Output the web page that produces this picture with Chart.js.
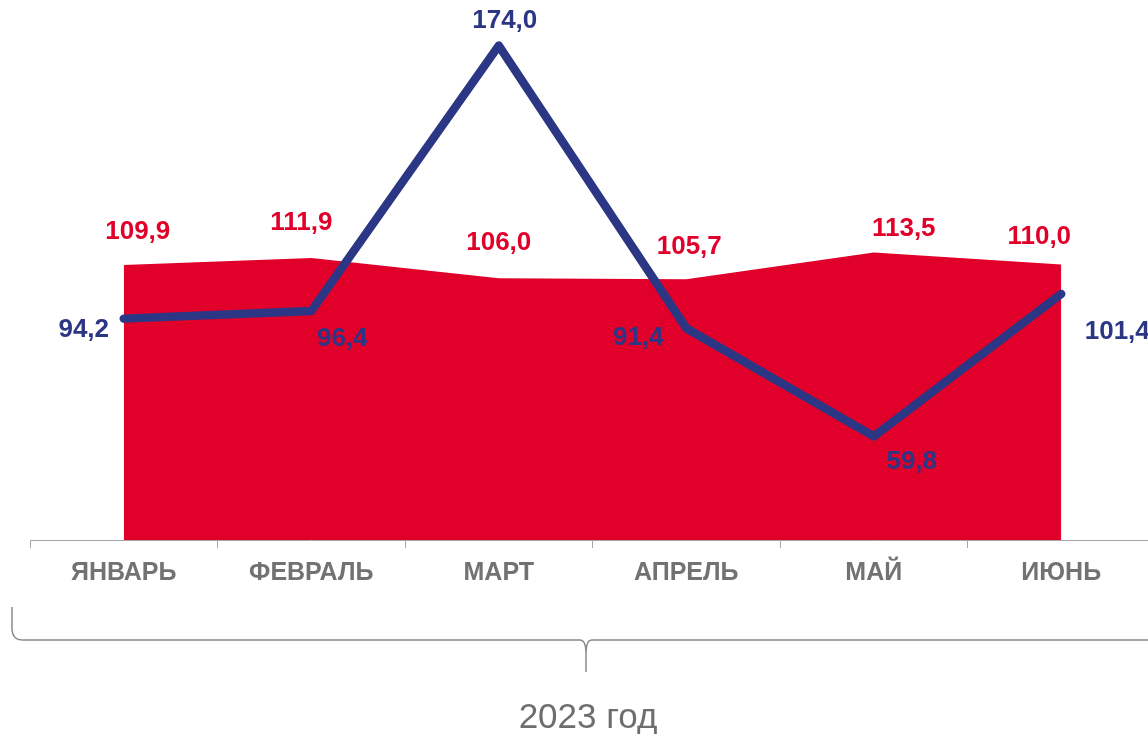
<!DOCTYPE html>
<html lang="ru">
<head>
    <meta charset="UTF-8">
    <title>2023 год</title>
    <script src="https://cdn.jsdelivr.net/npm/chart.js"></script>
    <style>
        body { margin: 0; overflow: hidden; background: #fff; font-family: 'Liberation Sans', Arial, sans-serif; }
        #wrap { position: relative; width: 1160px; height: 734px; }
    </style>
</head>
<body>
    <div id="wrap"><canvas id="chart"></canvas></div>

    <script>
        const months = ['ЯНВАРЬ', 'ФЕВРАЛЬ', 'МАРТ', 'АПРЕЛЬ', 'МАЙ', 'ИЮНЬ'];
        const areaValues = [109.9, 111.9, 106.0, 105.7, 113.5, 110.0];
        const lineValues = [94.2, 96.4, 174.0, 91.4, 59.8, 101.4];
        const periodLabel = '2023 год';

        const RED = '#e1002a';
        const BLUE = '#2b3684';
        const GREY = '#727272';

        // label offsets from the point (label centre), per dataset
        const areaLabelShift = [[14, -33], [-10, -35], [0, -35], [3, -32], [30, -24], [-22, -28]];
        const lineLabelShift = [[-40, 11], [31, 28], [6, -25], [-48, 10], [38, 26], [56, 38]];

        const fmt = v => v.toFixed(1).replace('.', ',');

        const valueLabels = {
            id: 'valueLabels',
            afterDatasetsDraw(chart) {
                const ctx = chart.ctx;
                ctx.save();
                ctx.font = 'bold 26px "Liberation Sans", Arial, sans-serif';
                ctx.textAlign = 'center';
                ctx.textBaseline = 'middle';
                chart.data.datasets.forEach((ds, di) => {
                    const meta = chart.getDatasetMeta(di);
                    const shift = ds.label === 'area' ? areaLabelShift : lineLabelShift;
                    ctx.fillStyle = ds.label === 'area' ? RED : BLUE;
                    meta.data.forEach((pt, i) => {
                        ctx.fillText(fmt(ds.data[i]), pt.x + shift[i][0], pt.y + shift[i][1]);
                    });
                });
                ctx.restore();
            }
        };

        // curly brace under the axis + period caption
        const brace = {
            id: 'brace',
            afterDraw(chart) {
                const ctx = chart.ctx;
                const l = 12, r = 1160, mid = 586, top = 607, y = 640, tip = 672;
                ctx.save();
                ctx.strokeStyle = '#8a8a8a';
                ctx.lineWidth = 1.5;
                ctx.beginPath();
                ctx.moveTo(l, top);
                ctx.lineTo(l, y - 10);
                ctx.quadraticCurveTo(l + 1, y, l + 10, y);
                ctx.lineTo(mid - 6, y);
                ctx.quadraticCurveTo(mid, y, mid, y + 14);
                ctx.lineTo(mid, tip);
                ctx.moveTo(mid, y + 14);
                ctx.quadraticCurveTo(mid, y, mid + 6, y);
                ctx.lineTo(r - 10, y);
                ctx.quadraticCurveTo(r - 1, y, r, y - 10);
                ctx.lineTo(r, top);
                ctx.stroke();

                ctx.fillStyle = '#6e6e6e';
                ctx.font = '35px "Liberation Sans", Arial, sans-serif';
                ctx.textAlign = 'center';
                ctx.textBaseline = 'middle';
                ctx.fillText(periodLabel, 588, 718);
                ctx.restore();
            }
        };

        new Chart(document.getElementById('chart'), {
            type: 'line',
            data: {
                labels: months,
                datasets: [
                    {
                        label: 'line',
                        data: lineValues,
                        borderColor: BLUE,
                        borderWidth: 8.5,
                        borderCapStyle: 'round',
                        borderJoinStyle: 'round',
                        pointRadius: 0,
                        fill: false,
                        tension: 0,
                        order: 0
                    },
                    {
                        label: 'area',
                        data: areaValues,
                        borderWidth: 0,
                        backgroundColor: RED,
                        pointRadius: 0,
                        fill: 'start',
                        tension: 0,
                        order: 1
                    }
                ]
            },
            options: {
                responsive: true,
                maintainAspectRatio: false,
                animation: false,
                layout: { padding: { top: 10, left: 30, right: 5, bottom: 0 } },
                plugins: { legend: { display: false }, tooltip: { enabled: false } },
                scales: {
                    x: {
                        offset: true,
                        grid: { offset: true, drawOnChartArea: false, drawTicks: true, tickLength: 8, color: '#a6a6a6' },
                        border: { display: true, color: '#a6a6a6', width: 1 },
                        ticks: {
                            color: GREY,
                            padding: 10,
                            font: { family: '"Liberation Sans", Arial, sans-serif', size: 25, weight: 'bold' }
                        },
                        afterFit(scale) { scale.height = 194; }
                    },
                    y: { display: false, min: 29.5, max: 184.4 }
                }
            },
            plugins: [valueLabels, brace]
        });
    </script>
</body>
</html>
